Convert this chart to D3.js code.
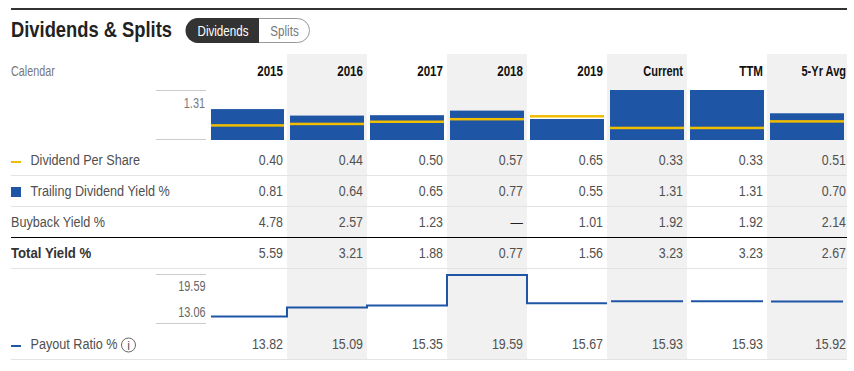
<!DOCTYPE html>
<html>
<head>
<meta charset="utf-8">
<script src="https://cdn.jsdelivr.net/npm/d3@7"></script>
<style>
    html, body { margin: 0; padding: 0; background: #fff; }
    svg { display: block; }
    text { font-family: "Liberation Sans", sans-serif; }
</style>
</head>
<body>
<script>
const periods = ["2015", "2016", "2017", "2018", "2019", "Current", "TTM", "5-Yr Avg"];
const dividendPerShare = [0.40, 0.44, 0.50, 0.57, 0.65, 0.33, 0.33, 0.51];
const dividendYield = [0.81, 0.64, 0.65, 0.77, 0.55, 1.31, 1.31, 0.70];
const buybackYield = [4.78, 2.57, 1.23, null, 1.01, 1.92, 1.92, 2.14];
const totalYield = [5.59, 3.21, 1.88, 0.77, 1.56, 3.23, 3.23, 2.67];
const payoutRatio = [13.82, 15.09, 15.35, 19.59, 15.67, 15.93, 15.93, 15.92];
const yieldTicks = [1.31];
const payoutTicks = [19.59, 13.06];

const svgWidth = 854, svgHeight = 371;
const blue = "#1f55a5", yellow = "#f0bd00", textGrey = "#505050";

const svg = d3.select("body").append("svg")
    .attr("width", svgWidth)
    .attr("height", svgHeight);

const xScale = d3.scaleBand().domain(periods).range([207, 847]);
const yieldScale = d3.scaleLinear().domain([0, 1.31]).range([140, 90]);
const dpsScale = d3.scaleLinear().domain([0, 1.37]).range([140, 90]);
const payoutScale = d3.scaleLinear().domain([13.06, 19.59]).range([322, 275]);

// right edge of the text in a column, last one sits closer to the border
const textRight = d => d === "5-Yr Avg" ? xScale(d) + 79 : xScale(d) + 76;
const barLeft = i => xScale(periods[i]) + (i === 0 ? 4 : 3);
const barWidth = i => i === 0 ? 73 : 74;

// shaded columns
svg.selectAll(".shade")
    .data(periods.filter((d, i) => i % 2 === 1))
    .enter().append("rect")
    .attr("class", "shade")
    .attr("x", d => xScale(d))
    .attr("y", 54)
    .attr("width", xScale.bandwidth())
    .attr("height", 305)
    .attr("fill", "#f1f1f1");

// top rule and title
svg.append("rect").attr("x", 11).attr("y", 8).attr("width", 836).attr("height", 2).attr("fill", "#333");
svg.append("text").attr("x", 11).attr("y", 37)
    .attr("font-size", 22.5).attr("font-weight", "bold").attr("fill", "#222")
    .attr("data-k", 0.815)
    .text("Dividends & Splits");

// toggle
svg.append("rect").attr("x", 186.5).attr("y", 18.5).attr("width", 123).attr("height", 24).attr("rx", 12)
    .attr("fill", "#fff").attr("stroke", "#999");
svg.append("path").attr("d", "M259,18H198a12.5,12.5 0 0 0 0,25H259Z").attr("fill", "#333");
svg.append("text").attr("x", 223).attr("y", 35.5).attr("text-anchor", "middle")
    .attr("font-size", 14.5).attr("fill", "#fff").text("Dividends");
svg.append("text").attr("x", 284.5).attr("y", 35.5).attr("text-anchor", "middle")
    .attr("font-size", 14.5).attr("fill", "#777").text("Splits");

// header
svg.append("text").attr("x", 11).attr("y", 76).attr("font-size", 14).attr("fill", "#777")
    .attr("data-k", 0.77).text("Calendar");
svg.selectAll(".head")
    .data(periods)
    .enter().append("text")
    .attr("class", "head")
    .attr("x", textRight)
    .attr("y", 76)
    .attr("text-anchor", "end")
    .attr("font-size", 14.5)
    .attr("font-weight", "bold")
    .attr("fill", "#111")
    .attr("data-k", d => d.length > 4 ? 0.76 : 0.8)
    .text(d => d);

// yield bars
svg.selectAll(".bar")
    .data(dividendYield)
    .enter().append("rect")
    .attr("class", "bar")
    .attr("x", (d, i) => barLeft(i))
    .attr("y", d => yieldScale(d))
    .attr("width", (d, i) => barWidth(i))
    .attr("height", d => yieldScale(0) - yieldScale(d))
    .attr("fill", blue);

// dividend per share marks
svg.selectAll(".dps")
    .data(dividendPerShare)
    .enter().append("rect")
    .attr("class", "dps")
    .attr("x", (d, i) => barLeft(i))
    .attr("y", d => dpsScale(d) - 1.25)
    .attr("width", (d, i) => barWidth(i))
    .attr("height", 2.5)
    .attr("fill", yellow);

// small axis frames
function frame(y1, y2) {
    [y1, y2].forEach(y => {
        svg.append("line").attr("x1", 156).attr("x2", 206).attr("y1", y).attr("y2", y)
            .attr("stroke", "#ccc").attr("stroke-width", 1);
    });
}
frame(90.5, 139.5);
frame(274.5, 323.5);

svg.selectAll(".ytick")
    .data(yieldTicks)
    .enter().append("text")
    .attr("class", "ytick")
    .attr("x", 205)
    .attr("y", d => yieldScale(d) + 17.5)
    .attr("text-anchor", "end")
    .attr("font-size", 14.5)
    .attr("fill", "#777")
    .attr("data-k", 0.75)
    .text(d => d.toFixed(2));

svg.selectAll(".ptick")
    .data(payoutTicks)
    .enter().append("text")
    .attr("class", "ptick")
    .attr("x", 205.5)
    .attr("y", (d, i) => i === 0 ? 291 : 317)
    .attr("text-anchor", "end")
    .attr("font-size", 14.5)
    .attr("fill", "#666")
    .attr("data-k", 0.75)
    .text(d => d.toFixed(2));

// payout line: stepped for the years, separate pieces for the last three
const line = d3.line().x(d => d[0]).y(d => d[1]);
const stepPoints = payoutRatio.slice(0, 5).flatMap((v, i) => {
    const left = xScale(periods[i]);
    return [[i === 0 ? left + 4 : left, payoutScale(v)], [left + xScale.bandwidth(), payoutScale(v)]];
});
svg.append("path")
    .attr("d", line(stepPoints))
    .attr("fill", "none")
    .attr("stroke", blue)
    .attr("stroke-width", 2);

payoutRatio.slice(5).forEach((v, i) => {
    const left = xScale(periods[i + 5]);
    svg.append("path")
        .attr("d", line([[left + 4, payoutScale(v)], [left + 76, payoutScale(v)]]))
        .attr("fill", "none")
        .attr("stroke", blue)
        .attr("stroke-width", 2);
});

// table rows
const fmt = d => d === null ? "—" : d.toFixed(2);
function row(values, y) {
    svg.append("g").selectAll("text")
        .data(values)
        .enter().append("text")
        .attr("x", (d, i) => textRight(periods[i]))
        .attr("y", y)
        .attr("text-anchor", "end")
        .attr("font-size", 15.5)
        .attr("fill", d => d === null ? "#222" : textGrey)
        .text(fmt);
}
row(dividendPerShare, 165);
row(dividendYield, 196);
row(buybackYield, 227);
row(totalYield, 258);
row(payoutRatio, 349);

function label(text, x, y, bold) {
    svg.append("text").attr("x", x).attr("y", y)
        .attr("font-size", 15.5)
        .attr("font-weight", bold ? "bold" : "normal")
        .attr("fill", bold ? "#333" : textGrey)
        .attr("data-k", bold ? 0.85 : 0.815)
        .text(text);
}
label("Dividend Per Share", 30.5, 165);
label("Trailing Dividend Yield %", 30.5, 196);
label("Buyback Yield %", 11, 227);
label("Total Yield %", 11, 258, true);
label("Payout Ratio %", 30.5, 349);

// legend keys
svg.append("rect").attr("x", 11).attr("y", 161).attr("width", 10).attr("height", 2).attr("fill", yellow);
svg.append("rect").attr("x", 11).attr("y", 187).attr("width", 10).attr("height", 10).attr("fill", blue);
svg.append("rect").attr("x", 11).attr("y", 345).attr("width", 10).attr("height", 2).attr("fill", blue);

// info icon
svg.append("circle").attr("cx", 128.5).attr("cy", 345).attr("r", 7)
    .attr("fill", "none").attr("stroke", "#666");
const infoMark = svg.append("text").attr("x", 128.5).attr("y", 349.5).attr("text-anchor", "middle")
    .attr("font-size", 12).attr("fill", "#555").text("i");

// row rules
const rules = [
    {y: 175.5, c: "#e3e3e3"},
    {y: 206.5, c: "#e3e3e3"},
    {y: 237.5, c: "#000"},
    {y: 268.5, c: "#e3e3e3"},
    {y: 359.5, c: "#e3e3e3"}
];
svg.selectAll(".rule")
    .data(rules)
    .enter().append("line")
    .attr("class", "rule")
    .attr("x1", 11)
    .attr("x2", 847)
    .attr("y1", d => d.y)
    .attr("y2", d => d.y)
    .attr("stroke", d => d.c);

// no condensed face is installed, so squeeze the glyphs to the original width
svg.selectAll("text").each(function() {
    if (this === infoMark.node()) return;
    const k = +this.getAttribute("data-k") || 0.8;
    this.setAttribute("textLength", this.getComputedTextLength() * k);
    this.setAttribute("lengthAdjust", "spacingAndGlyphs");
});
</script>
</body>
</html>
